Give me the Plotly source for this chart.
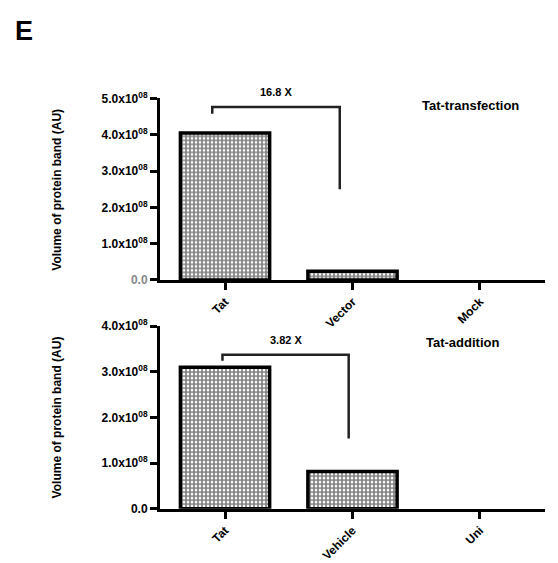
import plotly.graph_objects as go

# Band volumes (x10^08 AU)
cats_top = ["Tat", "Vector", "Mock"]
vals_top = [4.05, 0.241, 0.0]
cats_bot = ["Tat", "Vehicle", "Uni"]
vals_bot = [3.10, 0.812, 0.0]

ticks_top = [0, 1, 2, 3, 4, 5]
ticks_bot = [0, 1, 2, 3, 4]

W, H = 558, 563
FONT = "Liberation Sans, Arial, sans-serif"


def px_x(p):
    return p / W


def px_y(p):
    return 1 - p / H


def tick_text(vals, zero_color):
    out = []
    for v in vals:
        if v == 0:
            out.append(f"<span style='color:{zero_color}'>0.0</span>")
        else:
            out.append(f"{v:.1f}x10<sup>08</sup>")
    return out


fig = go.Figure()

bar_style = dict(
    marker=dict(
        color="white",
        line=dict(color="black", width=[3.5, 3.5, 0]),
        pattern=dict(shape="+", fgcolor="black", bgcolor="white", size=4, solidity=0.65),
    ),
    width=0.70,
    showlegend=False,
    hoverinfo="skip",
)

fig.add_trace(go.Bar(x=cats_top, y=vals_top, xaxis="x", yaxis="y", **bar_style))
fig.add_trace(go.Bar(x=cats_bot, y=vals_bot, xaxis="x2", yaxis="y2", **bar_style))

xdom = [px_x(160), px_x(545)]
axis_common = dict(
    showline=True, linecolor="black", linewidth=3,
    ticks="outside", ticklen=7, tickwidth=3, tickcolor="black",
    showgrid=False, zeroline=False, mirror=False,
)
xtick_font = dict(size=12, family=FONT, weight="bold")
ytick_font = dict(size=12, family=FONT, weight="bold")

fig.update_layout(
    width=W, height=H,
    margin=dict(l=0, r=0, t=0, b=0),
    paper_bgcolor="white", plot_bgcolor="white",
    font=dict(family=FONT, color="black"),
    xaxis=dict(domain=xdom, anchor="y", range=[-0.51, 2.51], tickangle=-45,
               tickfont=xtick_font, **axis_common),
    yaxis=dict(domain=[px_y(282), px_y(93)], anchor="x", range=[0, 5.0],
               tickvals=ticks_top, ticktext=tick_text(ticks_top, "#888888"),
               tickfont=ytick_font, **axis_common),
    xaxis2=dict(domain=xdom, anchor="y2", range=[-0.51, 2.51], tickangle=-45,
                tickfont=xtick_font, **axis_common),
    yaxis2=dict(domain=[px_y(520), px_y(330)], anchor="x2", range=[0, 4.0],
                tickvals=ticks_bot, ticktext=tick_text(ticks_bot, "black"),
                tickfont=ytick_font, **axis_common),
    bargap=0.3,
)

# Significance brackets: (xref, yref, x_left, x_right, y_top, y_left_end, y_right_end, label)
brackets = [
    ("x", "y", -0.10, 0.90, 4.76, 4.58, 2.50, f"{vals_top[0] / vals_top[1]:.1f} X"),
    ("x2", "y2", -0.02, 0.97, 3.37, 3.24, 1.54, f"{vals_bot[0] / vals_bot[1]:.2f} X"),
]
for xr, yr, xl, xrt, yt, yl, yrr, lab in brackets:
    fig.add_shape(type="path", xref=xr, yref=yr,
                  path=f"M {xl},{yl} L {xl},{yt} L {xrt},{yt} L {xrt},{yrr}",
                  line=dict(color="#222222", width=2.5))
    fig.add_annotation(x=(xl + xrt) / 2, y=yt, xref=xr, yref=yr, text=f"<b>{lab}</b>",
                       showarrow=False, yshift=15, font=dict(size=11, family=FONT))

# Panel titles
fig.add_annotation(x=px_x(470), y=px_y(100), xref="paper", yref="paper",
                   xanchor="center", yanchor="middle",
                   text="<b>Tat-transfection</b>", showarrow=False,
                   font=dict(size=13, family=FONT))
fig.add_annotation(x=px_x(462), y=px_y(347), xref="paper", yref="paper",
                   xanchor="center", yanchor="middle",
                   text="<b>Tat-addition</b>", showarrow=False,
                   font=dict(size=13, family=FONT))

# Y-axis titles
for yc in (188, 425):
    fig.add_annotation(x=px_x(57), y=px_y(yc), xref="paper", yref="paper",
                       xanchor="center", yanchor="middle",
                       text="<b>Volume of protein band (AU)</b>", showarrow=False,
                       textangle=-90, font=dict(size=12, family=FONT))

# Panel letter
fig.add_annotation(x=px_x(24), y=px_y(23), xref="paper", yref="paper",
                   xanchor="center", yanchor="middle",
                   text="<b>E</b>", showarrow=False, font=dict(size=27, family=FONT))

fig.write_html("out.html")
